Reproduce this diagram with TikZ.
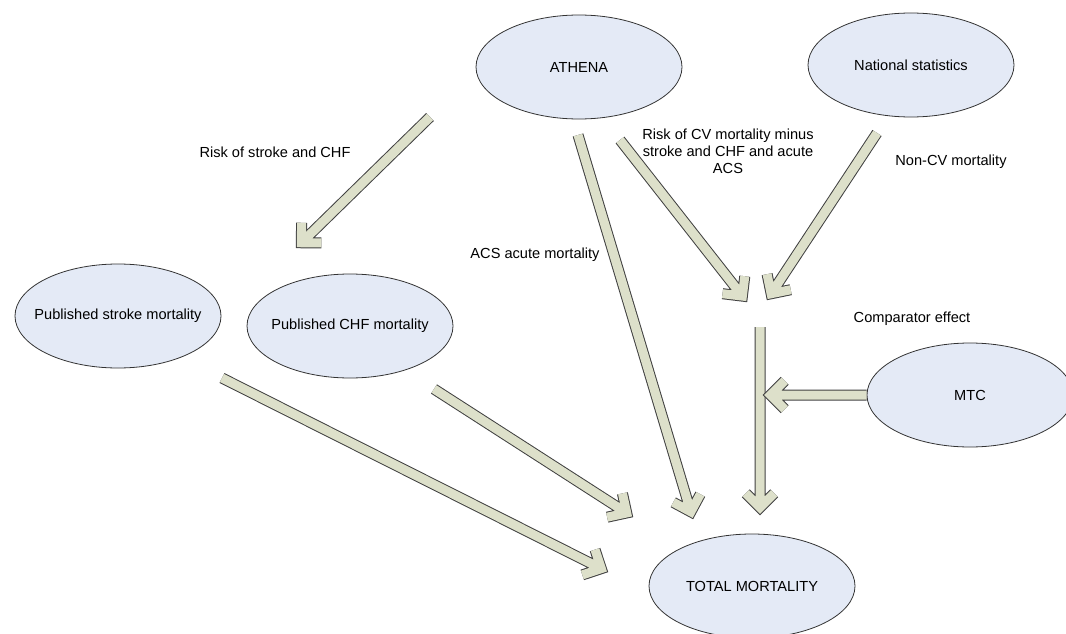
\documentclass[tikz,border=0pt]{standalone}
\usepackage{fontspec}
\setmainfont{Liberation Sans}
\usepackage{tikz}
\usetikzlibrary{shapes.geometric, calc}
\definecolor{bubble}{RGB}{228,234,246}
\definecolor{arrowbody}{RGB}{221,224,202}
\tikzstyle{source} = [ellipse, 
minimum width=206pt, 
minimum height=104pt, 
inner xsep=-12pt, % keeps long texts from widening the ellipse
inner ysep=0pt, 
text centered, 
line width=0.8pt, 
draw=black!80, 
fill=bubble]
\tikzstyle{note} = [align=center, inner sep=0pt]
\tikzstyle{arrowedge} = [line width=11pt, black!75, line join=miter]
\tikzstyle{arrowcore} = [line width=9pt, arrowbody, line join=miter]
% broad hollow arrow: #1 tail, #2 outer tip of the head
\newcommand{\hollowarrow}[2]{%
  \coordinate (apex) at ($(#2)!7.5pt!(#1)$);
  \coordinate (wing_l) at ($(apex)!20pt!45:(#1)$);
  \coordinate (wing_r) at ($(apex)!20pt!-45:(#1)$);
  \draw [arrowedge] (#1) -- (apex) (wing_l) -- (apex) -- (wing_r);
  \draw [arrowcore] (#1) -- (apex) (wing_l) -- (apex) -- (wing_r);
}

\begin{document}
\begin{tikzpicture}[x=1pt, y=-1pt, font=\fontsize{14.6}{17}\selectfont]

    \useasboundingbox (0,0) rectangle (1066,634);

    \node (athena) [source] at (579,67) {ATHENA};
    \node (nat_stats) [source] at (911,65) {National statistics};
    \node (pub_stroke) [source] at (118,316) {Published stroke mortality};
    \node (pub_chf) [source] at (350,326) {Published CHF mortality};
    \node (mtc) [source] at (970,395) {MTC};
    \node (total) [source] at (752,586) {TOTAL MORTALITY};

    \node (lbl_stroke_chf) [note] at (275,152) {Risk of stroke and CHF};
    \node (lbl_acs) [note] at (535,255) {ACS acute mortality};
    \node (lbl_cv) [note] at (728,151) {Risk of CV mortality minus\\stroke and CHF and acute\\ACS};
    \node (lbl_noncv) [note] at (951,162) {Non-CV mortality};
    \node (lbl_comp) [note] at (912,319) {Comparator effect};

    \coordinate (stroke_chf_from) at (430,117);
    \coordinate (stroke_chf_to) at (296,248);
    \coordinate (acs_from) at (578,135);
    \coordinate (acs_to) at (693,519);
    \coordinate (cv_from) at (620,140);
    \coordinate (cv_to) at (747,302);
    \coordinate (noncv_from) at (877,133);
    \coordinate (noncv_to) at (767,300);
    \coordinate (merge_from) at (760,327);
    \coordinate (merge_to) at (760,515);
    \coordinate (comp_to) at (763,395);
    \coordinate (chf_from) at (434,389);
    \coordinate (chf_to) at (633,517);
    \coordinate (stroke_from) at (222,378);
    \coordinate (stroke_to) at (608,572);

    \hollowarrow{stroke_chf_from}{stroke_chf_to}
    \hollowarrow{acs_from}{acs_to}
    \hollowarrow{cv_from}{cv_to}
    \hollowarrow{noncv_from}{noncv_to}
    \hollowarrow{merge_from}{merge_to}
    \hollowarrow{mtc.west}{comp_to}
    \hollowarrow{chf_from}{chf_to}
    \hollowarrow{stroke_from}{stroke_to}

\end{tikzpicture}
\end{document}
